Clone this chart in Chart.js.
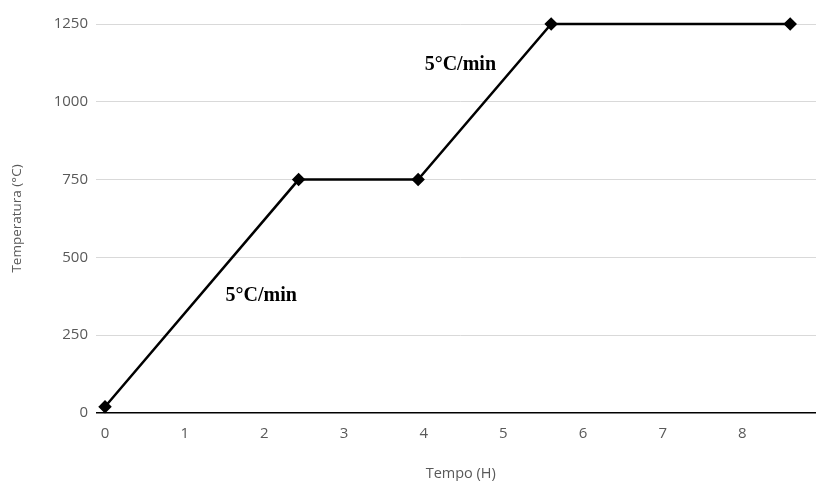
<!DOCTYPE html>
<html>
<head>
<meta charset="utf-8">
<script src="https://cdn.jsdelivr.net/npm/chart.js@4"></script>
<style>
  html, body { margin: 0; background: #fff; overflow: hidden; }
  canvas { display: block; }
</style>
</head>
<body>
<!-- canvas is a bit wider than the window so the plot runs off the right edge like the original -->
<canvas id="chart" width="824" height="481"></canvas>
<script>
// firing schedule: time (h) vs temperature (°C)
const tempoH = [0, 2.43, 3.93, 5.6, 8.6];
const temperatura = [20, 750, 750, 1250, 1250];
const xTicks = [0, 1, 2, 3, 4, 5, 6, 7, 8];
const yTicks = [0, 250, 500, 750, 1000, 1250];
const rampLabels = [
  { text: '5°C/min', x: 1.96, y: 376 },
  { text: '5°C/min', x: 4.46, y: 1118 }
];

const labelPlugin = {
  id: 'rampLabels',
  afterDatasetsDraw(chart) {
    const ctx = chart.ctx;
    const xs = chart.scales.x, ys = chart.scales.y;
    ctx.save();
    ctx.font = 'bold 20px "Liberation Serif", "DejaVu Serif", serif';
    ctx.fillStyle = '#000';
    ctx.textAlign = 'center';
    ctx.textBaseline = 'middle';
    rampLabels.forEach(l => {
      ctx.fillText(l.text, xs.getPixelForValue(l.x), ys.getPixelForValue(l.y));
    });
    ctx.restore();
  }
};

const fam = '"Open Sans", Lato, sans-serif';
const tickFont = { family: fam, size: 15 };

new Chart(document.getElementById('chart'), {
  type: 'line',
  data: {
    datasets: [{
      data: tempoH.map((t, i) => ({ x: t, y: temperatura[i] })),
      borderColor: '#000',
      backgroundColor: '#000',
      borderWidth: 2.5,
      tension: 0,
      pointStyle: 'rectRot',
      pointRadius: 5,
      pointHoverRadius: 5,
      clip: false
    }]
  },
  options: {
    responsive: false,
    animation: false,
    layout: { padding: { top: 24, right: 0, left: 0, bottom: 0 } },
    plugins: {
      legend: { display: false },
      tooltip: { enabled: false }
    },
    scales: {
      x: {
        type: 'linear',
        min: 0,
        max: 8.93,
        afterBuildTicks: axis => { axis.ticks = xTicks.map(v => ({ value: v })); },
        afterFit: scale => { scale.height = 68; },
        grid: { display: false },
        border: { display: false },
        ticks: { color: '#595959', font: tickFont, padding: 4, maxRotation: 0, callback: v => String(v) },
        title: {
          display: true,
          text: 'Tempo (H)',
          color: '#595959',
          font: { family: fam, size: 14.5 },
          padding: { top: 0, bottom: -2 }
        }
      },
      y: {
        min: 0,
        max: 1250,
        afterBuildTicks: axis => { axis.ticks = yTicks.map(v => ({ value: v })); },
        afterFit: scale => { scale.width = 105; },
        grid: {
          color: ctx => ctx.tick && ctx.tick.value === 0 ? '#000' : '#d9d9d9',
          lineWidth: ctx => ctx.tick && ctx.tick.value === 0 ? 1.5 : 1,
          tickLength: 9,
          drawTicks: true
        },
        border: { display: false },
        ticks: { color: '#595959', font: tickFont, padding: 8, callback: v => String(v) },
        title: {
          display: true,
          text: 'Temperatura (°C)',
          color: '#595959',
          font: { family: fam, size: 13.5 },
          padding: { top: 9, bottom: 0 }
        }
      }
    }
  },
  plugins: [labelPlugin]
});
</script>
</body>
</html>
